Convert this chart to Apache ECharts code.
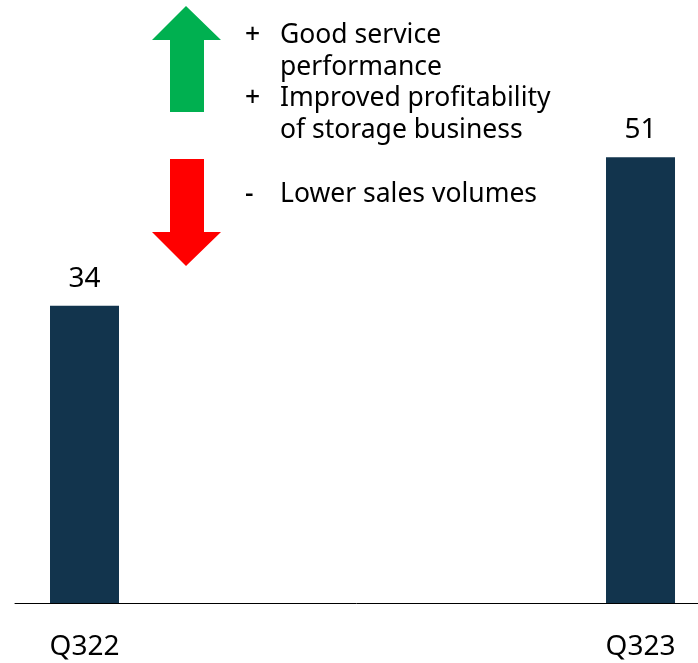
<!DOCTYPE html>
<html>
<head>
<meta charset="utf-8">
<script src="https://cdn.jsdelivr.net/npm/echarts@6/dist/echarts.min.js"></script>
<style>
  html, body { margin: 0; padding: 0; background: #fff; }
  #chart { width: 698px; height: 663px; }
</style>
</head>
<body>
<div id="chart"></div>
<script>
// Quarterly result, two periods
const categories = ['Q322', 'Q323'];
const values = [34, 51];

// Drivers of the change between the two quarters
const positiveDrivers = [['Good service', 'performance'], ['Improved profitability', 'of storage business']];
const negativeDrivers = [['Lower sales volumes']];

const FONT = '"Noto Sans", "Open Sans", sans-serif';
const BAR_COLOR = '#12344D';

const chart = echarts.init(document.getElementById('chart'), null, { renderer: 'canvas' });

// Driver text block: sign column + text column, one entry per line
const noteGraphics = [];
const LINE_H = 31.7;
function addNotes(groups, sign, firstTop) {
  let y = firstTop;
  groups.forEach(lines => {
    lines.forEach((line, i) => {
      if (i === 0) {
        noteGraphics.push({
          type: 'text', left: 245, top: y,
          style: { text: sign, font: '500 26.5px ' + FONT, fill: '#000' }
        });
      }
      noteGraphics.push({
        type: 'text', left: 280, top: y,
        style: { text: line, font: '26.5px ' + FONT, fill: '#000' }
      });
      y += LINE_H;
    });
  });
}
addNotes(positiveDrivers, '+', 22);
addNotes(negativeDrivers, '-', 181);

// Up (green) and down (red) block arrows
const arrows = [
  {
    type: 'polygon',
    shape: { points: [[186, 6], [221, 40], [204, 40], [204, 112], [170, 112], [170, 40], [152, 40]] },
    style: { fill: '#00B050' }
  },
  {
    type: 'polygon',
    shape: { points: [[170, 159], [204, 159], [204, 232], [221, 232], [186, 266], [152, 232], [170, 232]] },
    style: { fill: '#FF0000' }
  }
];

chart.setOption({
  animation: false,
  grid: { left: 15, right: 0, top: 0, bottom: 60 },
  xAxis: {
    type: 'value',
    min: -0.125,
    max: 1.1034,
    splitLine: { show: false },
    axisLine: { show: true, onZero: false, lineStyle: { color: '#000', width: 1 } },
    axisTick: { show: false },
    axisLabel: {
      customValues: categories.map((c, i) => i),
      formatter: v => categories[Math.round(v)] || '',
      color: '#000',
      fontSize: 28,
      fontFamily: FONT,
      margin: 30
    }
  },
  yAxis: {
    type: 'value',
    min: 0,
    max: 69,
    show: false,
    splitLine: { show: false }
  },
  series: [{
    type: 'bar',
    data: values.map((v, i) => [i, v]),
    barWidth: 69,
    itemStyle: { color: BAR_COLOR },
    label: {
      show: true,
      position: 'top',
      distance: 13,
      color: '#000',
      fontSize: 28,
      fontFamily: FONT,
      formatter: p => p.value[1]
    }
  }],
  graphic: arrows.concat(noteGraphics)
});
</script>
</body>
</html>
